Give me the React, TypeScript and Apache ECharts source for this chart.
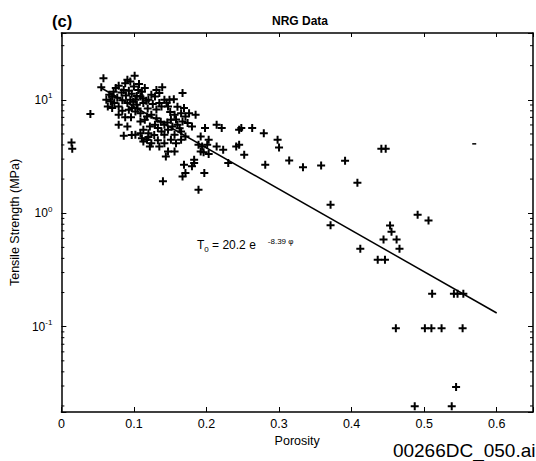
import React, { useEffect, useRef } from 'react';
import * as echarts from 'echarts';

// Porosity (fraction) vs tensile strength (MPa) — dense cluster
const denseSamples: [number, number][] = [
  [0.058, 15.5], [0.055, 12.9], [0.040, 7.5], [0.014, 4.2], [0.015, 3.7],
  [0.101, 16.3], [0.091, 15.0], [0.095, 14.5], [0.088, 14.0], [0.079, 13.3], [0.075, 12.7],
  [0.086, 12.2], [0.100, 13.1], [0.106, 12.2], [0.111, 11.8], [0.115, 12.7], [0.109, 10.7],
  [0.066, 11.1], [0.070, 10.7], [0.062, 10.0], [0.068, 9.7], [0.073, 9.35], [0.064, 8.74],
  [0.070, 8.45], [0.079, 8.74], [0.091, 9.35], [0.095, 10.0], [0.102, 10.0], [0.104, 9.04],
  [0.093, 8.16], [0.097, 8.45], [0.102, 7.89], [0.109, 7.63], [0.113, 9.35], [0.120, 10.0],
  [0.124, 11.1], [0.129, 10.7], [0.135, 11.5], [0.139, 12.9], [0.142, 10.0], [0.135, 9.35],
  [0.138, 8.74], [0.147, 8.74], [0.149, 10.0], [0.155, 10.1], [0.167, 11.5], [0.169, 8.45],
  [0.165, 7.63], [0.171, 7.13], [0.176, 7.63], [0.185, 7.38], [0.156, 7.38], [0.151, 6.66],
  [0.142, 6.02], [0.131, 6.89], [0.124, 7.38], [0.118, 7.13], [0.115, 6.66], [0.109, 6.44],
  [0.079, 7.38], [0.079, 6.02], [0.091, 5.82], [0.086, 4.82], [0.102, 4.92], [0.109, 5.08],
  [0.113, 5.44], [0.120, 5.08], [0.122, 5.82], [0.129, 6.02], [0.133, 5.63], [0.138, 5.26],
  [0.142, 4.92], [0.147, 5.44], [0.153, 5.82], [0.160, 6.02], [0.167, 6.44], [0.174, 6.23],
  [0.180, 5.82], [0.165, 5.26], [0.156, 4.92], [0.151, 4.44], [0.142, 4.15], [0.135, 3.88],
  [0.124, 4.15], [0.122, 3.88], [0.118, 4.44], [0.113, 4.30], [0.111, 4.59], [0.097, 4.90],
  [0.171, 4.75], [0.165, 4.44], [0.158, 4.15], [0.156, 3.51], [0.147, 3.51], [0.144, 3.17],
  [0.169, 2.67], [0.171, 2.26], [0.167, 2.11], [0.183, 2.96], [0.183, 2.77], [0.189, 4.01],
  [0.194, 3.88], [0.192, 3.51], [0.198, 5.63], [0.203, 4.44], [0.201, 4.01], [0.196, 3.45],
  [0.197, 2.26], [0.214, 6.02], [0.221, 5.63], [0.214, 3.88], [0.223, 3.63], [0.230, 2.77],
  [0.241, 3.88], [0.245, 4.01], [0.252, 3.28], [0.248, 5.63], [0.245, 5.44], [0.263, 5.63],
  [0.279, 5.08], [0.281, 2.67], [0.140, 1.91], [0.189, 1.61], [0.180, 2.59], [0.192, 4.75],
  [0.203, 3.32],
  [0.072, 11.8], [0.077, 10.4], [0.083, 11.6], [0.084, 9.9], [0.089, 10.9], [0.093, 12.0],
  [0.097, 11.3], [0.099, 9.6], [0.104, 10.8], [0.107, 13.8], [0.112, 10.3], [0.117, 9.8],
  [0.119, 8.4], [0.126, 9.2], [0.131, 8.2], [0.084, 8.0], [0.088, 7.0], [0.096, 7.0],
  [0.105, 8.4], [0.131, 12.2], [0.145, 9.4], [0.150, 7.8], [0.160, 8.7], [0.158, 6.7],
  [0.163, 5.6], [0.128, 4.9], [0.133, 4.4], [0.120, 4.7], [0.137, 6.4], [0.146, 6.3],
];

// Sparse high-porosity samples
const sparseSamples: [number, number][] = [
  [0.298, 4.44], [0.300, 3.80], [0.314, 2.92], [0.333, 2.54], [0.358, 2.64], [0.391, 2.90],
  [0.408, 1.86], [0.441, 3.70], [0.447, 3.70], [0.371, 1.19], [0.371, 0.785], [0.491, 0.97],
  [0.506, 0.865], [0.453, 0.78], [0.455, 0.686], [0.444, 0.587], [0.462, 0.587], [0.412, 0.487],
  [0.466, 0.487], [0.436, 0.389], [0.446, 0.389], [0.511, 0.195], [0.541, 0.195], [0.546, 0.195],
  [0.554, 0.195], [0.461, 0.097], [0.501, 0.097], [0.510, 0.097], [0.524, 0.097], [0.553, 0.097],
  [0.544, 0.0294], [0.487, 0.0199], [0.538, 0.0199],
];

// Small stray dash in the scan
const strayMark: [number, number][] = [[0.569, 4.09]];

// Fitted line T0 = 20.2 e^(-8.39 phi), end points
const fitLine: [number, number][] = [[0.055, 12.7], [0.6, 0.132]];

// Axis ranges
const xRange = [0, 0.65];
const yRange = [0.0177, 38.8];

// Minor ticks of the log axis
const minorTickValues = [
  0.02, 0.03, 0.04, 0.05, 0.06, 0.07, 0.08, 0.09,
  0.2, 0.3, 0.4, 0.5, 0.6, 0.7, 0.8, 0.9,
  2, 3, 4, 5, 6, 7, 8, 9,
  20, 30,
];

const FONT = '"Liberation Sans", Arial, Helvetica, sans-serif';
const PLUS = 'path://M3,0H5V3H8V5H5V8H3V5H0V3H3Z';

export default function App() {
  const ref = useRef<HTMLDivElement>(null);

  useEffect(() => {
    const chart = echarts.init(ref.current!, null, { renderer: 'svg' });

    const yFormatter = (v: number) => {
      const l = Math.log10(v);
      const e = Math.round(l);
      if (Math.abs(l - e) > 1e-6) return '';
      return `{b|10}{s|${e}}`;
    };
    const xFormatter = (v: number) => {
      const k = Math.round(v * 10);
      if (Math.abs(v * 10 - k) > 1e-6) return '';
      return k === 0 ? '0' : (k / 10).toFixed(1);
    };

    const axisLine = { show: true, onZero: false, lineStyle: { color: '#000', width: 1.5 } };
    const axisTick = { show: true, inside: true, length: 5, lineStyle: { color: '#000', width: 1 } };

    chart.setOption({
      animation: false,
      backgroundColor: '#fff',
      textStyle: { fontFamily: FONT, color: '#000' },
      grid: { left: 51, top: 33, width: 484, height: 379 },
      xAxis: [
        {
          type: 'value', min: xRange[0], max: xRange[1], interval: 0.1, position: 'bottom',
          axisLine, axisTick, splitLine: { show: false },
          axisLabel: { color: '#000', fontSize: 12.5, fontFamily: FONT, margin: 5, formatter: xFormatter },
          name: 'Porosity', nameLocation: 'middle', nameGap: 20,
          nameTextStyle: { color: '#000', fontSize: 12.5, fontFamily: FONT },
        },
        {
          type: 'value', min: xRange[0], max: xRange[1], interval: 0.1, position: 'top',
          axisLine, axisTick: { ...axisTick, length: 4 }, splitLine: { show: false },
          axisLabel: { show: false },
        },
      ],
      yAxis: [
        {
          type: 'log', logBase: 10, min: yRange[0], max: yRange[1], position: 'left',
          axisLine, axisTick, splitLine: { show: false }, minorTick: { show: false },
          axisLabel: {
            color: '#000', fontFamily: FONT, margin: 9, formatter: yFormatter,
            rich: {
              b: { fontSize: 12, fontFamily: FONT, color: '#000', lineHeight: 16, verticalAlign: 'middle' },
              s: { fontSize: 8, fontFamily: FONT, color: '#000', lineHeight: 8, verticalAlign: 'top' },
            },
          },
          name: 'Tensile Strength (MPa)', nameLocation: 'middle', nameGap: 23,
          nameTextStyle: { color: '#000', fontSize: 12.5, fontFamily: FONT },
        },
        {
          type: 'log', logBase: 10, min: yRange[0], max: yRange[1], position: 'right',
          axisLine, axisTick, splitLine: { show: false }, axisLabel: { show: false },
        },
      ],
      series: [
        {
          type: 'scatter', xAxisIndex: 0, yAxisIndex: 0,
          data: [...denseSamples, ...sparseSamples],
          symbol: PLUS, symbolSize: 8,
          itemStyle: { color: '#000', opacity: 1 }, silent: true,
        },
        {
          type: 'scatter', xAxisIndex: 0, yAxisIndex: 0,
          data: strayMark, symbol: 'rect', symbolSize: [4, 1.5],
          itemStyle: { color: '#000', opacity: 1 }, silent: true,
        },
        {
          type: 'line', xAxisIndex: 0, yAxisIndex: 0,
          data: fitLine, symbol: 'none', showSymbol: false,
          lineStyle: { color: '#000', width: 1.5 }, silent: true,
        },
        {
          type: 'custom', xAxisIndex: 0, yAxisIndex: 0, silent: true,
          data: minorTickValues.map((v) => [0, v]),
          encode: { x: 0, y: 1 },
          renderItem: (params: any, api: any) => {
            const y = api.coord([0, api.value(1)])[1];
            const cs = params.coordSys;
            return {
              type: 'group',
              children: [
                { type: 'line', shape: { x1: cs.x, y1: y, x2: cs.x + 3, y2: y }, style: { stroke: '#000', lineWidth: 1 } },
                { type: 'line', shape: { x1: cs.x + cs.width - 3, y1: y, x2: cs.x + cs.width, y2: y }, style: { stroke: '#000', lineWidth: 1 } },
              ],
            };
          },
        },
      ],
      graphic: [
        {
          type: 'text', x: 52, y: 21,
          style: { text: '(c)', font: `bold 16.5px ${FONT}`, fill: '#000', textAlign: 'left', textVerticalAlign: 'middle' },
        },
        {
          type: 'text', x: 300, y: 21,
          style: { text: 'NRG Data', font: `bold 12px ${FONT}`, fill: '#000', textAlign: 'center', textVerticalAlign: 'middle' },
        },
        {
          type: 'text', x: 197, y: 245,
          style: {
            text: '{n|T}{sub|0}{n| = 20.2 e}{sup|-8.39 φ}',
            fill: '#000', textAlign: 'left', textVerticalAlign: 'middle',
            rich: {
              n: { fontSize: 12, fontFamily: FONT, lineHeight: 16, verticalAlign: 'middle', fill: '#000' },
              sub: { fontSize: 8, fontFamily: FONT, lineHeight: 8, verticalAlign: 'bottom', fill: '#000' },
              sup: { fontSize: 8, fontFamily: FONT, lineHeight: 8, verticalAlign: 'top', fill: '#000', padding: [0, 0, 0, 12] },
            },
          },
        },
        {
          type: 'text', x: 535.5, y: 450,
          style: { text: '00266DC_050.ai', font: `19px ${FONT}`, fill: '#000', textAlign: 'right', textVerticalAlign: 'middle' },
        },
      ],
    });

    return () => chart.dispose();
  }, []);

  return (
    <div
      ref={ref}
      style={{ position: 'absolute', left: 0, top: 0, width: 536, height: 461, background: '#fff' }}
    />
  );
}
